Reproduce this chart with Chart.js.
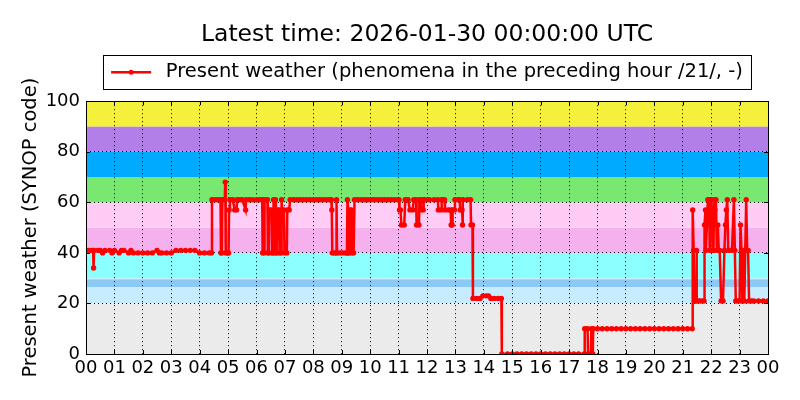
<!DOCTYPE html>
<html>
<head>
<meta charset="utf-8">
<script src="https://cdn.jsdelivr.net/npm/chart.js@4.4.1/dist/chart.umd.min.js"></script>
<style>
  html, body { margin: 0; padding: 0; background: #fff; }
  #wrap { width: 800px; height: 400px; }
</style>
</head>
<body>
<div id="wrap"><canvas id="wxChart" width="800" height="400"></canvas></div>
<script>
const titleText = 'Latest time: 2026-01-30 00:00:00 UTC';
const legendText = 'Present weather (phenomena in the preceding hour /21/, -)';
const yTitle = 'Present weather (SYNOP code)';

// x tick labels, one per hour (minutes since 00 UTC on the axis)
const hourLabels = ['00', '01', '02', '03', '04', '05', '06', '07', '08', '09', '10', '11',
  '12', '13', '14', '15', '16', '17', '18', '19', '20', '21', '22', '23', '00'];

// background bands in SYNOP code units
const bandLow = [0, 20, 26.5, 30, 40, 50, 60, 70, 80, 90];
const bandHigh = [20, 30, 29.5, 40, 50, 60, 70, 80, 90, 100];
const bandColors = ['#ebebeb', '#c8ecff', '#8ccaf5', '#8cffff', '#f5b0ee',
  '#ffccf5', '#78e870', '#00aaff', '#b27ee8', '#f5f03c'];

// observation time (minutes after 00 UTC) and present weather code
const obsMinutes = [
  0, 5, 10, 15, 16, 17, 25, 30, 35, 40, 50, 55, 60, 70, 75, 80, 90, 95, 100, 110,
  120, 130, 140, 150, 155, 160, 170, 180, 190, 200, 210, 220, 230, 240, 250, 260, 265,
  266, 272, 278, 284, 285, 287, 288, 293, 294, 295, 299, 301, 302, 304, 310, 314, 318,
  319, 325, 330, 337, 338, 345, 352, 360, 366,
  372, 373, 376, 377, 383, 384, 386, 387, 392, 393, 395, 396, 400, 401, 403, 404, 408,
  409, 412, 413, 414, 418, 419, 424, 425, 429, 431,
  438, 445, 452, 459, 466, 473, 480, 487, 494, 501, 508, 514, 518, 519, 520, 524, 528,
  529, 530, 536, 542, 548, 551, 552, 553, 556, 557, 560, 561, 565, 567, 574, 581, 588,
  595, 602, 609, 616, 623, 630, 637, 644, 651, 658,
  661, 662, 664, 666, 672, 674, 680, 684, 690, 692, 697, 698, 703, 704, 707, 708, 712, 713,
  716, 725, 735, 743, 744, 750, 751, 757, 758, 765, 770, 771, 773, 774, 778, 779, 785,
  789, 790, 794, 795, 796, 805, 812, 813, 816,
  817, 825, 832, 838, 845, 850, 855, 862, 870, 877,
  878, 890, 900, 910, 920, 930, 940, 950, 960, 970, 980, 990, 1000, 1010, 1020, 1030,
  1040, 1052,
  1053, 1059, 1060, 1066, 1067, 1068, 1070, 1071, 1080, 1090, 1100, 1110, 1120, 1130,
  1140, 1150, 1160, 1170, 1180, 1190, 1200, 1210, 1220, 1230, 1240, 1250, 1260, 1270, 1280,
  1281, 1283, 1285, 1288, 1289, 1290, 1295, 1300, 1305, 1306, 1308, 1309, 1311, 1313,
  1315, 1316, 1317, 1318, 1320, 1322, 1323, 1325, 1326, 1328, 1330, 1332, 1334, 1336,
  1338, 1341, 1345, 1348, 1350, 1352, 1354, 1356, 1360, 1364, 1368, 1370, 1372, 1376,
  1380, 1382, 1384, 1386, 1388, 1390, 1392, 1394, 1396, 1398, 1400, 1405, 1410, 1420,
  1430, 1440
];
const wwCodes = [
  41, 41, 41, 41, 34, 41, 41, 41, 40, 41, 41, 40, 41, 40, 41, 41, 40, 41, 40, 40,
  40, 40, 40, 41, 40, 40, 40, 40, 41, 41, 41, 41, 41, 40, 40, 40, 40,
  61, 61, 61, 61, 40, 40, 61, 61, 68, 40, 40, 40, 57, 61, 61, 57, 57,
  61, 61, 61, 57, 61, 61, 61, 61, 61,
  61, 40, 40, 61, 61, 40, 40, 57, 57, 40, 40, 61, 61, 40, 40, 57, 57,
  40, 40, 61, 57, 57, 40, 40, 57, 57, 61,
  61, 61, 61, 61, 61, 61, 61, 61, 61, 61, 61, 61, 61, 57, 40, 40, 40,
  61, 40, 40, 40, 40, 40, 61, 40, 40, 57, 57, 40, 40, 61, 61, 61, 61,
  61, 61, 61, 61, 61, 61, 61, 61, 61, 61,
  61, 57, 57, 51, 51, 61, 61, 57, 57, 61, 61, 51, 51, 61, 61, 57, 57, 61,
  61, 61, 61, 61, 57, 57, 61, 61, 57, 57, 57, 51, 51, 57, 57, 61, 61,
  61, 57, 57, 51, 61, 61, 61, 51, 51,
  22, 22, 22, 23, 23, 23, 22, 22, 22, 22,
  0, 0, 0, 0, 0, 0, 0, 0, 0, 0, 0, 0, 0, 0, 0, 0,
  0, 0,
  10, 10, 0, 0, 10, 0, 0, 10, 10, 10, 10, 10, 10, 10,
  10, 10, 10, 10, 10, 10, 10, 10, 10, 10, 10, 10, 10, 10, 10,
  57, 41, 21, 21, 41, 21, 21, 21, 21, 51, 57, 41, 51, 61,
  61, 57, 41, 61, 61, 51, 41, 41, 61, 57, 61, 41, 51, 41,
  41, 21, 21, 41, 51, 57, 61, 41, 41, 41, 61, 41, 21, 21,
  21, 51, 41, 21, 41, 21, 41, 61, 41, 41, 21, 21, 21, 21,
  21, 21
];

const points = obsMinutes.map((t, i) => ({ x: t, y: wwCodes[i] }));

Chart.defaults.font.family = 'DejaVu Sans';
Chart.defaults.color = '#000';

const framePlugin = {
  id: 'frame',
  beforeDraw(chart) {
    const { ctx, chartArea: a, scales: { y } } = chart;
    ctx.save();
    bandLow.forEach((lo, i) => {
      const top = y.getPixelForValue(bandHigh[i]);
      const bottom = y.getPixelForValue(lo);
      ctx.fillStyle = bandColors[i];
      ctx.fillRect(a.left, top, a.right - a.left, bottom - top);
    });
    ctx.restore();
  },
  afterDraw(chart) {
    const { ctx, chartArea: a, scales: { x, y } } = chart;
    ctx.save();
    ctx.strokeStyle = '#000';
    ctx.lineWidth = 1;
    ctx.beginPath();
    // inward ticks on all four sides
    x.ticks.forEach((t) => {
      const px = Math.round(x.getPixelForValue(t.value)) + 0.5;
      ctx.moveTo(px, a.bottom); ctx.lineTo(px, a.bottom - 4);
      ctx.moveTo(px, a.top); ctx.lineTo(px, a.top + 4);
    });
    y.ticks.forEach((t) => {
      const py = Math.round(y.getPixelForValue(t.value)) + 0.5;
      ctx.moveTo(a.left, py); ctx.lineTo(a.left + 4, py);
      ctx.moveTo(a.right, py); ctx.lineTo(a.right - 4, py);
    });
    ctx.stroke();
    ctx.strokeRect(Math.round(a.left) + 0.5, Math.round(a.top) + 0.5,
      Math.round(a.right - a.left), Math.round(a.bottom - a.top));

    // legend frame and line sample
    const hb = chart.legend.legendHitBoxes[0];
    if (hb) {
      const cy = hb.top + hb.height / 2;
      ctx.strokeRect(Math.round(hb.left - 8) + 0.5, Math.round(cy - 17) + 0.5,
        Math.round(hb.width + 16), 34);
      ctx.strokeStyle = '#ff0000';
      ctx.lineWidth = 2.5;
      ctx.beginPath();
      ctx.moveTo(hb.left, cy);
      ctx.lineTo(hb.left + 40, cy);
      ctx.stroke();
      ctx.fillStyle = '#ff0000';
      ctx.beginPath();
      ctx.arc(hb.left + 20, cy, 2.5, 0, Math.PI * 2);
      ctx.fill();
    }
    ctx.restore();
  }
};

new Chart(document.getElementById('wxChart'), {
  type: 'line',
  data: {
    datasets: [
      {
        label: legendText,
        data: points,
        borderColor: '#ff0000',
        backgroundColor: '#ff0000',
        borderWidth: 2.5,
        pointRadius: 2.7,
        pointBorderWidth: 0,
        pointBackgroundColor: '#ff0000',
        clip: 0,
      },
    ],
  },
  options: {
    responsive: false,
    animation: false,
    layout: { padding: { left: 0, right: 32, top: 0, bottom: 0 } },
    plugins: {
      title: {
        display: true,
        text: titleText,
        fullSize: false,
        font: { size: 23.5, weight: 'normal' },
        padding: { top: 21, bottom: 0 },
      },
      legend: {
        fullSize: false,
        labels: {
          boxWidth: 45,
          boxHeight: 38,
          padding: 4,
          font: { size: 19.5 },
          generateLabels() {
            return [{
              text: legendText,
              fillStyle: 'rgba(0,0,0,0)',
              strokeStyle: 'rgba(0,0,0,0)',
              lineWidth: 0,
              datasetIndex: 0,
            }];
          },
        },
      },
      tooltip: { enabled: false },
    },
    scales: {
      x: {
        type: 'linear',
        min: 0,
        max: 1440,
        afterFit(scale) { scale.height = 46; },
        afterBuildTicks(scale) {
          scale.ticks = hourLabels.map((_, i) => ({ value: i * 60 }));
        },
        ticks: {
          autoSkip: false,
          maxRotation: 0,
          padding: 4,
          font: { size: 18 },
          callback(value, index) {
            return hourLabels[index];
          },
        },
        grid: { color: '#000', lineWidth: 1, drawTicks: false },
        border: { display: false, dash: [1, 3] },
      },
      y: {
        min: 0,
        max: 100,
        afterFit(scale) { scale.width = 86; },
        ticks: {
          stepSize: 20,
          padding: 6,
          font: { size: 18 },
        },
        grid: { color: '#000', lineWidth: 1, drawTicks: false },
        border: { display: false, dash: [1, 3] },
        title: {
          display: true,
          text: yTitle,
          font: { size: 19.5 },
          padding: { top: 19, bottom: 0 },
        },
      },
    },
  },
  plugins: [framePlugin],
});
</script>
</body>
</html>
